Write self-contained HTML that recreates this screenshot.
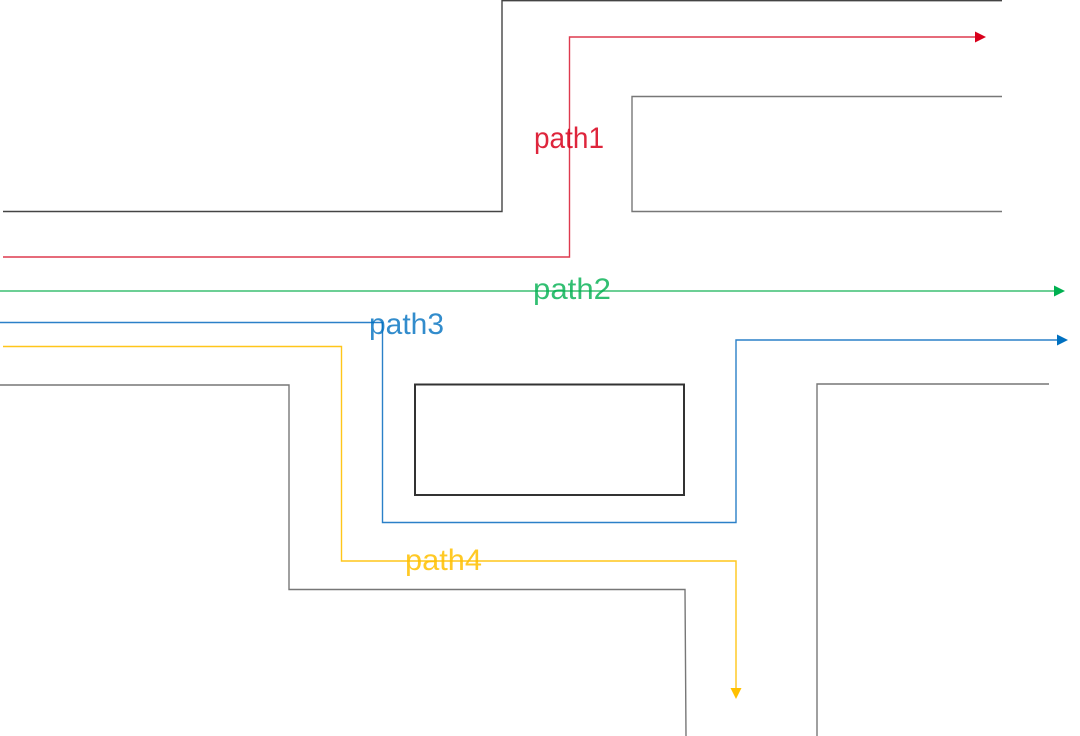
<!DOCTYPE html>
<html>
<head>
<meta charset="utf-8">
<style>
  html, body { margin: 0; padding: 0; background: #fff; }
  svg { display: block; }
  text { font-family: "Liberation Sans", "DejaVu Sans", sans-serif; font-size: 30px; }
</style>
</head>
<body>
<svg width="1080" height="736" viewBox="0 0 1080 736" xmlns="http://www.w3.org/2000/svg">
  <!-- black walls -->
  <g fill="none" stroke="#666" stroke-width="1.4">
    <polyline points="3,211.5 502,211.5 502,0.7 1002,0.7" stroke="#444"/>
    <polyline points="1002,96.5 632,96.5 632,211.5 1002,211.5" stroke="#777"/>
    <polyline points="0,385 289,385 289,589.5 685,589.5 686,736" stroke="#777"/>
    <polyline points="1049,384 817,384 817,736" stroke="#777"/>
  </g>
  <rect x="415" y="384.5" width="269" height="110.5" fill="none" stroke="#333" stroke-width="2"/>

  <!-- red path1 -->
  <polyline points="3,257 569.5,257 569.5,37 977,37" fill="none" stroke="#de3a4e" stroke-width="1.4"/>
  <polygon points="975,31.5 986,37 975,42.5" fill="#d9001b"/>

  <!-- green path2 -->
  <line x1="0" y1="291" x2="1056" y2="291" stroke="#3cbf72" stroke-width="1.4"/>
  <polygon points="1054,285.5 1065,291 1054,296.5" fill="#00b050"/>

  <!-- blue path3 -->
  <polyline points="0,322.5 382.5,322.5 382.5,522.5 736,522.5 736,340 1058,340" fill="none" stroke="#2b80c8" stroke-width="1.4"/>
  <polygon points="1057,334.5 1068,340 1057,345.5" fill="#0070c0"/>

  <!-- yellow path4 -->
  <polyline points="3,346.5 341.5,346.5 341.5,561 736,561 736,690" fill="none" stroke="#ffc61a" stroke-width="1.4"/>
  <polygon points="730.5,688 741.5,688 736,699" fill="#ffc000"/>

  <!-- labels -->
  <text x="534" y="148" fill="#d9001b" textLength="70" lengthAdjust="spacingAndGlyphs" opacity="0.85">path1</text>
  <text x="533" y="299" fill="#00b050" textLength="78" lengthAdjust="spacingAndGlyphs" opacity="0.8">path2</text>
  <text x="369" y="334" fill="#0070c0" textLength="75" lengthAdjust="spacingAndGlyphs" opacity="0.8">path3</text>
  <text x="405" y="570" fill="#ffc000" textLength="77" lengthAdjust="spacingAndGlyphs" opacity="0.85">path4</text>
</svg>
</body>
</html>
